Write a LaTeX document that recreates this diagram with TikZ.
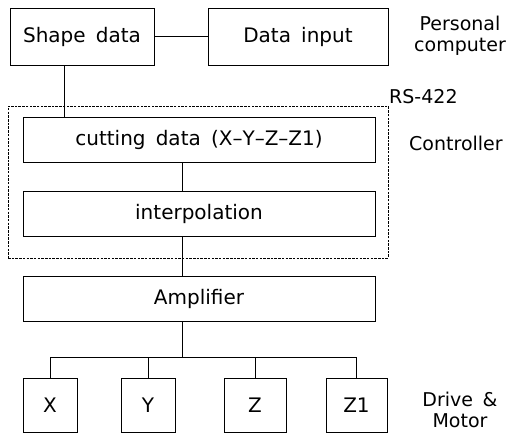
\documentclass[tikz,border=0pt]{standalone}
\usepackage{fontspec}
\setmainfont{DejaVu Sans}[WordSpace=1.6]
\begin{document}
\begin{tikzpicture}[x=1pt,y=-1pt,
  box/.style={draw,line width=0.8pt,inner sep=0pt,font=\fontsize{20}{22}\selectfont},
  lab/.style={font=\fontsize{19}{21}\selectfont,align=center,inner sep=0pt},
  conn/.style={line width=0.8pt},
  ctrl/.style={line width=0.8pt,dash pattern=on 2.5pt off 1.2pt}]
\useasboundingbox (0,0) rectangle (510,432);
\node[box,minimum width=144pt,minimum height=57pt] (sd) at (82,36.5) {Shape data};
\node[box,minimum width=180pt,minimum height=57pt] (di) at (298,36.5) {Data input};
\node[box,minimum width=352pt,minimum height=45pt] (cut) at (199,139.5) {cutting data (X--Y--Z--Z1)};
\node[box,minimum width=352pt,minimum height=45pt] (ip) at (199,213.5) {interpolation};
\node[box,minimum width=352pt,minimum height=45pt] (amp) at (199,298.5) {Amplifier};
\node[box,minimum width=54pt,minimum height=54pt] (mx) at (50,405) {X};
\node[box,minimum width=54pt,minimum height=54pt] (my) at (148,405) {Y};
\node[box,minimum width=62pt,minimum height=54pt] (mz) at (255,405) {Z};
\node[box,minimum width=61pt,minimum height=54pt] (mz1) at (356.5,405) {Z1};
\node[ctrl,draw,minimum width=380pt,minimum height=152pt,inner sep=0pt] (ctl) at (198,182) {};
\node[lab] (pc) at (460,36) {Personal\\computer};
\node[lab,anchor=west] (rs) at (389,97) {RS-422};
\node[lab,anchor=west] (cl) at (409,143) {Controller};
\node[lab] (dm) at (460,410) {Drive \&\\Motor};
\coordinate (bus) at (182,357);
\draw[conn] (sd.east) -- (di.west);
\draw[conn] (sd.south -| 64,0) -- (cut.north -| 64,0);
\draw[conn] (cut.south -| bus) -- (ip.north -| bus);
\draw[conn] (ip.south -| bus) -- (amp.north -| bus);
\draw[conn] (amp.south -| bus) -- (bus);
\draw[conn] (mx.north) -- (mx.north |- bus) -- (mz1.north |- bus) -- (mz1.north);
\draw[conn] (my.north) -- (my.north |- bus);
\draw[conn] (mz.north) -- (mz.north |- bus);
\end{tikzpicture}
\end{document}
